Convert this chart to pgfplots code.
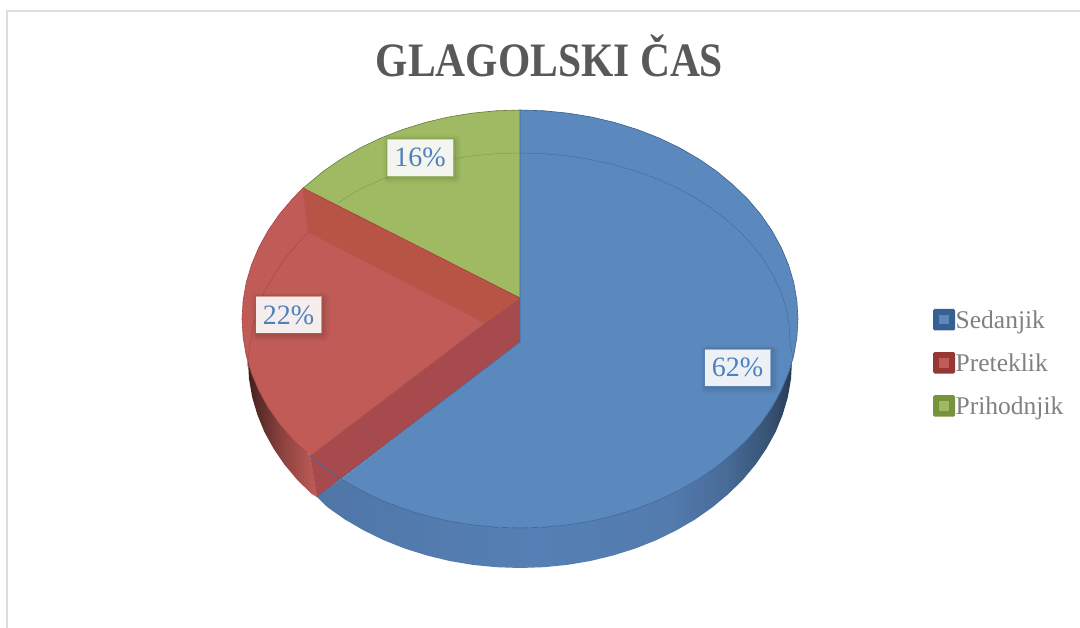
\documentclass[border=0pt]{standalone}
\usepackage{fontspec}
\setmainfont{Liberation Serif}
\newfontfamily\titlefont[FakeStretch=0.865]{Liberation Serif}
\usepackage{pgfplots}
\pgfplotsset{compat=1.18}
\definecolor{bluetop}{HTML}{5B89BE}
\definecolor{bluewall}{HTML}{5680B5}
\definecolor{blueline}{HTML}{3F6A9E}
\definecolor{bluekey}{HTML}{376092}
\definecolor{redkey}{HTML}{953735}
\definecolor{greenkey}{HTML}{77933C}
\definecolor{redtop}{HTML}{C05B57}
\definecolor{redup}{HTML}{B75445}
\definecolor{redlow}{HTML}{A64A4E}
\definecolor{redline}{HTML}{A8443F}
\definecolor{greentop}{HTML}{9FBA62}
\definecolor{greenline}{HTML}{7F9A4A}
\definecolor{labblue}{HTML}{4F81BD}
\pgfdeclarehorizontalshading{bluewallshade}{100bp}{
 color(0bp)=(bluewall!92!black);
 color(25bp)=(bluewall!92!black);
 color(48bp)=(bluewall);
 color(62bp)=(bluewall!96!black);
 color(68bp)=(bluewall!84!black);
 color(73bp)=(bluewall!62!black);
 color(75bp)=(bluewall!45!black);
 color(100bp)=(bluewall!45!black)}
\pgfdeclarehorizontalshading{redwallshade}{100bp}{
 color(0bp)=(redtop!30!black);
 color(25bp)=(redtop!30!black);
 color(33bp)=(redtop!45!black);
 color(50bp)=(redtop!72!black);
 color(70bp)=(redtop!95!black);
 color(75bp)=(redtop);
 color(100bp)=(redtop)}
\newcommand{\lab}[4]{%
 \node[fill=black,fill opacity=.03,rounded corners=4pt,minimum width=77pt,minimum height=48pt,inner sep=0pt,xshift=2pt,yshift=-2pt] at (axis cs:#1,#2) {};
 \node[fill=black,fill opacity=.04,rounded corners=3pt,minimum width=73pt,minimum height=44pt,inner sep=0pt,xshift=2pt,yshift=-2pt] at (axis cs:#1,#2) {};
 \node[fill=black,fill opacity=.05,rounded corners=2pt,minimum width=70pt,minimum height=41pt,inner sep=0pt,xshift=1pt,yshift=-1pt] at (axis cs:#1,#2) {};
 \node[fill=white,fill opacity=.9,text opacity=1,draw=#3,draw opacity=.6,line width=.8pt,minimum width=66pt,minimum height=37pt,inner sep=0pt,text=labblue,font=\fontsize{28}{30}\selectfont] at (axis cs:#1,#2) {#4\%};
}
\begin{document}
\begin{tikzpicture}
\begin{axis}[
 scale only axis,width=1080pt,height=628pt,
 xmin=0,xmax=1080,ymin=0,ymax=628,y dir=reverse,
 hide axis,
 legend style={at={(rel axis cs:0.864,0.508)},anchor=north west,draw=none,fill=none,inner sep=0pt,outer sep=0pt,
   font=\fontsize{25.5}{27}\selectfont,text=black!50,row sep=21.6pt,
   nodes={inner sep=0pt,outer sep=0pt},column sep=.6pt},
 legend cell align=left,
]
\path (axis cs:0,0) (axis cs:1080,628);
% frame
\addplot[forget plot,draw=black!13,line width=2pt] coordinates {(7,628)(7,11)(1080,11)};
% red wall
\addplot[forget plot,draw=none,shading=redwallshade] coordinates {
(245.5,352)(251.5,373.1)(258.8,390.5)(268.1,407.4)(279.2,423.5)(292.3,439)(307,453.1)(310,456)(317,497)(311.6,494)(297.2,479.8)(284.4,464.5)(273.5,448.5)(264.3,431.8)(257.3,414.6)(252.1,396.9)(249,379)(248,361)};
% blue wall
\addplot[forget plot,draw=none,shading=bluewallshade] coordinates {
(317,497)(341.3,479.1)(360.4,490.2)(381,500)(402.4,508.4)(424.9,515.4)(448,520.9)(471.7,524.8)(495.8,527.2)(520,528)(544.2,527.2)(568.3,524.8)(592,520.9)(615.1,515.4)(637.6,508.4)(659,500)(679.6,490.2)(698.7,479.1)(716.6,466.8)(733,453.1)(747.7,439)(760.8,423.5)(771.9,407.4)(781.2,390.5)(788.5,373.1)(791.6,364)(792,361)(791,379)(787.9,396.9)(782.7,414.6)(775.7,431.8)(766.5,448.5)(755.6,464.5)(742.8,479.8)(728.4,494)(712.3,507.4)(694.9,519.6)(676.1,530.5)(656,540.3)(635.1,548.6)(613,555.5)(590.4,561)(567.2,564.9)(543.7,567.2)(520,568)(496.3,567.2)(472.8,564.9)(449.6,561)(427,555.5)(404.9,548.6)(384,540.3)(363.9,530.5)(345.1,519.6)(327.7,507.4)};
% green top
\addplot[forget plot,fill=greentop,draw=none] coordinates {
(520,110)(495.8,110.8)(471.7,113.2)(448,117.1)(424.9,122.6)(402.4,129.6)(381,138)(360.4,147.8)(341.3,158.9)(323.4,171.2)(307,184.9)(303,188)(520,298)};
% red top
\addplot[forget plot,fill=redtop,draw=none] coordinates {
(303,188)(292.3,199)(279.2,214.5)(268.1,230.6)(258.8,247.5)(251.5,264.9)(246.2,282.7)(243.1,300.8)(242,319)(243.1,337.2)(246.2,355.3)(251.5,373.1)(258.8,390.5)(268.1,407.4)(279.2,423.5)(292.3,439)(307,453.1)(310,456)(520,320)(520,298)};
% red inner walls
\addplot[forget plot,fill=redup,draw=none] coordinates {(303,188)(308,232)(485,323)(520,298)};
\addplot[forget plot,fill=redlow,draw=none] coordinates {(485,323)(520,298)(520,342)(317,497)(310,456)};
% blue top
\addplot[forget plot,fill=bluetop,draw=none] coordinates {
(520,110)(544.2,110.8)(568.3,113.2)(592,117.1)(615.1,122.6)(637.6,129.6)(659,138)(679.6,147.8)(698.7,158.9)(716.6,171.2)(733,184.9)(747.7,199)(760.8,214.5)(771.9,230.6)(781.2,247.5)(788.5,264.9)(793.8,282.7)(796.9,300.8)(798,319)(796.9,337.2)(793.8,355.3)(788.5,373.1)(781.2,390.5)(771.9,407.4)(760.8,423.5)(747.7,439)(733,453.1)(716.6,466.8)(698.7,479.1)(679.6,490.2)(659,500)(637.6,508.4)(615.1,515.4)(592,520.9)(568.3,524.8)(544.2,527.2)(520,528)(495.8,527.2)(471.7,524.8)(448,520.9)(424.9,515.4)(402.4,508.4)(381,500)(360.4,490.2)(341.3,479.1)(520,342)};
% rims
\addplot[forget plot,draw=greenline!80!black,line width=.6pt] coordinates {(520,110)(495.8,110.8)(471.7,113.2)(448,117.1)(424.9,122.6)(402.4,129.6)(381,138)(360.4,147.8)(341.3,158.9)(323.4,171.2)(307,184.9)(303,188)};
\addplot[forget plot,draw=redline,line width=.6pt] coordinates {(303,188)(292.3,199)(279.2,214.5)(268.1,230.6)(258.8,247.5)(251.5,264.9)(246.2,282.7)(243.1,300.8)(242,319)(243.1,337.2)(246.2,355.3)(251.5,373.1)(258.8,390.5)(268.1,407.4)(279.2,423.5)(292.3,439)(307,453.1)};
\addplot[forget plot,draw=redline,line width=.7pt] coordinates {(303,188)(520,298)};
\addplot[forget plot,draw=redline!90,line width=.5pt] coordinates {(303,188)(308,232)(485,323)(520,298)};
\addplot[forget plot,draw=redline!90,line width=.5pt] coordinates {(485,323)(310,456)(317,497)};
\addplot[forget plot,draw=blueline!90!black,line width=.6pt] coordinates {(520,110)(544.2,110.8)(568.3,113.2)(592,117.1)(615.1,122.6)(637.6,129.6)(659,138)(679.6,147.8)(698.7,158.9)(716.6,171.2)(733,184.9)(747.7,199)(760.8,214.5)(771.9,230.6)(781.2,247.5)(788.5,264.9)(793.8,282.7)(796.9,300.8)(798,319)(796.9,337.2)(793.8,355.3)};
\addplot[forget plot,draw=blueline,line width=.7pt] coordinates {(793.8,355.3)(788.5,373.1)(781.2,390.5)(771.9,407.4)(760.8,423.5)(747.7,439)(733,453.1)(716.6,466.8)(698.7,479.1)(679.6,490.2)(659,500)(637.6,508.4)(615.1,515.4)(592,520.9)(568.3,524.8)(544.2,527.2)(520,528)(495.8,527.2)(471.7,524.8)(448,520.9)(424.9,515.4)(402.4,508.4)(381,500)(360.4,490.2)(341.3,479.1)(323.4,466.8)(310,456)};
\addplot[forget plot,draw=blueline,line width=.6pt] coordinates {(520,110)(520,342)(317,497)};
% inner bevel lines
\addplot[forget plot,draw=greenline,line width=.4pt] coordinates {(520,153)(496.5,153.7)(473,155.8)(450.1,159.4)(427.7,164.3)(405.9,170.6)(385,178.1)(365.1,186.9)(355,192)(338,203)};
\addplot[forget plot,draw=redline,line width=.4pt] coordinates {(308,232)(285,258)(265,290)(253,325)(250,345)(247,367)};
\addplot[forget plot,draw=blueline,line width=.4pt] coordinates {(520,153)(543.5,153.7)(567,155.8)(589.9,159.4)(612.3,164.3)(634.1,170.6)(655,178.1)(674.9,186.9)(693.6,196.9)(710.9,207.9)(726.8,220)(741.2,233)(753.8,246.7)(764.7,261.3)(773.8,276.4)(780.8,292)(786,307.9)(789,324.2)(790,340.5)(793,360)};
% labels
\lab{737.5}{367.5}{bluetop}{62}
\lab{288.5}{315}{redtop}{22}
\lab{420}{157.5}{greentop!80!white}{16}
% title
\node[anchor=base,text=black!65,font=\titlefont\bfseries\fontsize{48}{50}\selectfont] at (axis cs:549.5,77) {GLAGOLSKI ČAS};
% legend
\addlegendimage{legend image code/.code={\fill[rounded corners=1.5pt,fill=bluekey,draw=none] (0pt,-10.5pt) rectangle (22pt,11pt);\fill[bluetop,draw=none] (6pt,-4.5pt) rectangle (15.5pt,5pt);}}
\addlegendentry{Sedanjik}
\addlegendimage{legend image code/.code={\fill[rounded corners=1.5pt,fill=redkey,draw=none] (0pt,-10.5pt) rectangle (22pt,11pt);\fill[redtop,draw=none] (6pt,-4.5pt) rectangle (15.5pt,5pt);}}
\addlegendentry{Preteklik}
\addlegendimage{legend image code/.code={\fill[rounded corners=1.5pt,fill=greenkey,draw=none] (0pt,-10.5pt) rectangle (22pt,11pt);\fill[greentop,draw=none] (6pt,-4.5pt) rectangle (15.5pt,5pt);}}
\addlegendentry{Prihodnjik}
\end{axis}
\end{tikzpicture}
\end{document}
